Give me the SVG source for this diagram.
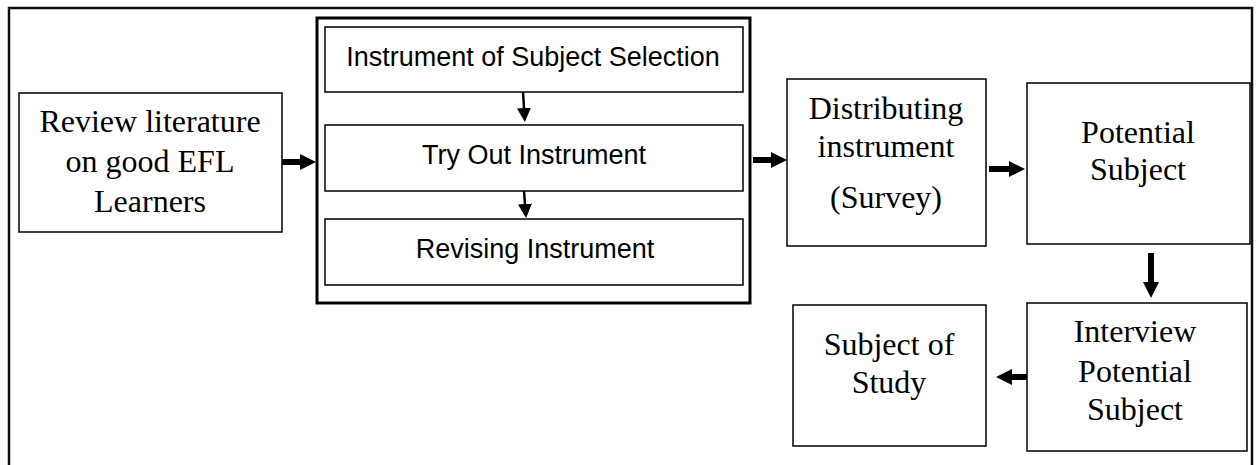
<svg xmlns="http://www.w3.org/2000/svg" width="1258" height="465" viewBox="0 0 1258 465">
  <style>
    .box { fill: #fff; stroke: #000; stroke-width: 1.5; }
    .group { fill: #fff; stroke: #000; stroke-width: 3; }
    .serif { font-family: "Liberation Serif", "Times New Roman", serif; font-size: 32px; fill: #000; text-anchor: middle; }
    .sans { font-family: "Liberation Sans", Arial, sans-serif; font-size: 27px; fill: #000; text-anchor: middle; }
    .thick { stroke: #000; stroke-width: 6; fill: none; marker-end: url(#bigHead); }
    .thin { stroke: #000; stroke-width: 2.5; fill: none; marker-end: url(#smallHead); }
    .frame { stroke: #111; stroke-width: 2.5; fill: none; }
  </style>
  <defs>
    <marker id="bigHead" markerUnits="userSpaceOnUse" markerWidth="16" markerHeight="16" refX="0" refY="8" orient="auto">
      <path d="M0,0 L16,8 L0,16 z" fill="#000"/>
    </marker>
    <marker id="smallHead" markerUnits="userSpaceOnUse" markerWidth="14" markerHeight="14" refX="0" refY="7" orient="auto">
      <path d="M0,0 L14,7 L0,14 z" fill="#000"/>
    </marker>
  </defs>

  <rect width="1258" height="465" fill="#fff"/>

  <!-- open frame around the chart -->
  <path class="frame" d="M9,465 L9,8 L1252,8 L1252,465"/>

  <g id="review">
    <rect class="box" x="19" y="93" width="263" height="139"/>
    <text class="serif" x="150" y="132">Review literature</text>
    <text class="serif" x="150" y="172">on good EFL</text>
    <text class="serif" x="150" y="212">Learners</text>
  </g>

  <g id="instrument-group">
    <rect class="group" x="317" y="18" width="433" height="285"/>
  </g>

  <g id="subject-selection">
    <rect class="box" x="325" y="27" width="418" height="65"/>
    <text class="sans" x="533" y="66">Instrument of Subject Selection</text>
  </g>

  <g id="try-out">
    <rect class="box" x="325" y="125" width="418" height="66"/>
    <text class="sans" x="534" y="164">Try Out Instrument</text>
  </g>

  <g id="revising">
    <rect class="box" x="325" y="219" width="418" height="66"/>
    <text class="sans" x="535" y="258">Revising Instrument</text>
  </g>

  <g id="distributing">
    <rect class="box" x="787" y="79" width="199" height="167"/>
    <text class="serif" x="886" y="119">Distributing</text>
    <text class="serif" x="886" y="157">instrument</text>
    <text class="serif" x="886" y="208">(Survey)</text>
  </g>

  <g id="potential">
    <rect class="box" x="1027" y="83" width="223" height="161"/>
    <text class="serif" x="1138" y="143">Potential</text>
    <text class="serif" x="1138" y="180">Subject</text>
  </g>

  <g id="interview">
    <rect class="box" x="1027" y="303" width="220" height="148"/>
    <text class="serif" x="1135" y="342">Interview</text>
    <text class="serif" x="1135" y="382">Potential</text>
    <text class="serif" x="1135" y="420">Subject</text>
  </g>

  <g id="subject-of-study">
    <rect class="box" x="793" y="305" width="193" height="141"/>
    <text class="serif" x="889" y="355">Subject of</text>
    <text class="serif" x="889" y="393">Study</text>
  </g>

  <g id="connectors">
    <line class="thick" x1="282" y1="162" x2="300" y2="162"/>
    <line class="thin" x1="523" y1="92" x2="524" y2="108"/>
    <line class="thin" x1="524" y1="191" x2="525" y2="204"/>
    <line class="thick" x1="753" y1="160" x2="771" y2="160"/>
    <line class="thick" x1="989" y1="169" x2="1009" y2="169"/>
    <line class="thick" x1="1151" y1="253" x2="1151" y2="282"/>
    <line class="thick" x1="1027" y1="377" x2="1012" y2="377"/>
  </g>
</svg>
